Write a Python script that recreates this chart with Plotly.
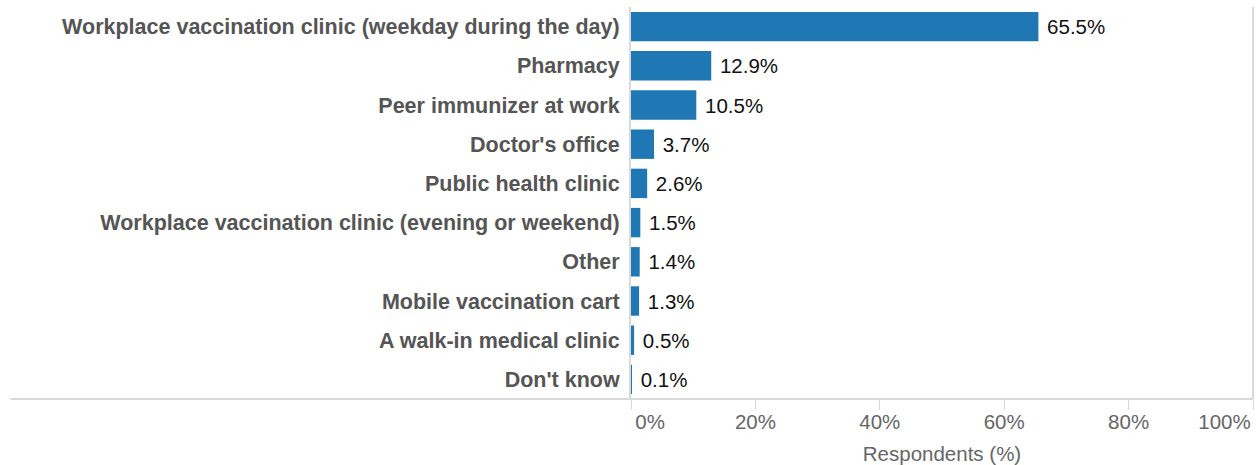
import plotly.graph_objects as go

categories = [
    "Workplace vaccination clinic (weekday during the day)",
    "Pharmacy",
    "Peer immunizer at work",
    "Doctor's office",
    "Public health clinic",
    "Workplace vaccination clinic (evening or weekend)",
    "Other",
    "Mobile vaccination cart",
    "A walk-in medical clinic",
    "Don't know",
]
respondents_pct = [65.5, 12.9, 10.5, 3.7, 2.6, 1.5, 1.4, 1.3, 0.5, 0.1]

tick_vals = [0, 20, 40, 60, 80, 100]
tick_text = ["0%", "20%", "40%", "60%", "80%", "100%"]

NBSP = "\u00a0"
# end labels are kept inside the axis, like the original
tick_text_flush = [NBSP * 6 + "\u2009" + tick_text[0]] + tick_text[1:-1] + [tick_text[-1] + NBSP * 10]

FONT = "Arial, Liberation Sans, sans-serif"
BAR = "#1f77b4"
RULE = "#d9d9d9"

fig = go.Figure(
    go.Bar(
        x=respondents_pct,
        y=categories,
        orientation="h",
        marker_color=BAR,
        marker_line_width=0,
        text=respondents_pct,
        texttemplate=NBSP + "%{x:.1f}%",
        textposition="outside",
        constraintext="none",
        cliponaxis=False,
        textfont=dict(family=FONT, size=20.5, color="#111111"),
        hovertemplate="%{y}: %{x:.1f}%<extra></extra>",
    )
)

fig.update_layout(
    width=1257,
    height=465,
    margin=dict(l=631, r=4, t=7, b=66, autoexpand=False),
    plot_bgcolor="white",
    paper_bgcolor="white",
    bargap=0.25,
    showlegend=False,
    font=dict(family=FONT),
)

fig.update_xaxes(
    range=[0, 100],
    automargin=False,
    tickvals=tick_vals,
    ticktext=tick_text_flush,
    ticks="outside",
    ticklen=10,
    tickcolor=RULE,
    tickwidth=1,
    ticklabelstandoff=-6,
    ticklabeloverflow="allow",
    showgrid=False,
    zeroline=False,
    showline=False,
    tickfont=dict(family=FONT, size=20.5, color="#666666"),
    title=dict(text="Respondents (%)", font=dict(family=FONT, size=20.5, color="#666666"), standoff=17),
)
fig.update_yaxes(
    autorange="reversed",
    automargin=False,
    showgrid=False,
    zeroline=False,
    showline=True,
    linecolor=RULE,
    linewidth=2,
    ticks="",
    ticklabelstandoff=5,
    tickfont=dict(family=FONT, size=21.5, color="#555555", weight="bold"),
)

# bottom rule running under the labels, and the right edge at 100%
fig.add_shape(type="line", xref="paper", yref="paper", x0=-0.998, x1=1, y0=0, y1=0,
              line=dict(color=RULE, width=2))
fig.add_shape(type="line", xref="paper", yref="paper", x0=1, x1=1, y0=0, y1=1,
              line=dict(color=RULE, width=2))

fig.write_html(
    "out.html",
    config={"displayModeBar": False},
    post_script="document.body.style.margin='0';",
)
